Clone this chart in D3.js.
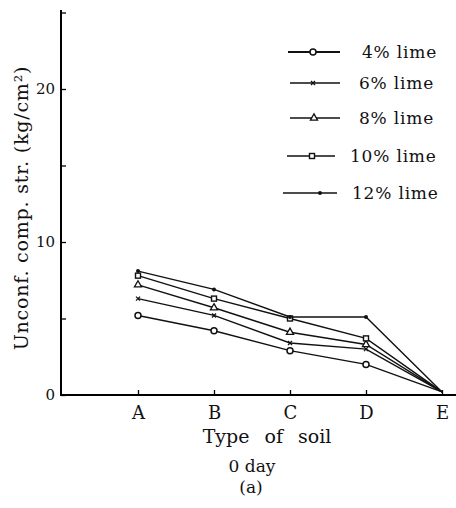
<!DOCTYPE html>
<html>
<head>
<meta charset="utf-8">
<script src="https://cdn.jsdelivr.net/npm/d3@7"></script>
<style>
  body { margin: 0; background: #fff; }
  svg { display: block; font-family: "DejaVu Serif", "Liberation Serif", serif; }
  text { fill: #111; }
</style>
</head>
<body>
<svg width="456" height="508"></svg>
<script>
// Data
var soils = ["A", "B", "C", "D", "E"];
var seriesNames = ["4% lime", "6% lime", "8% lime", "10% lime", "12% lime"];
var lime4  = [5.2, 4.2, 2.9, 2.0, 0.2];
var lime6  = [6.3, 5.2, 3.4, 3.0, 0.2];
var lime8  = [7.2, 5.7, 4.1, 3.3, 0.2];
var lime10 = [7.8, 6.3, 5.0, 3.7, 0.2];
var lime12 = [8.1, 6.9, 5.1, 5.1, 0.2];
var yTicks = [0, 5, 10, 15, 20, 25];
var yLabels = [0, 10, 20];

var series = [lime4, lime6, lime8, lime10, lime12];
var markers = ["circle", "cross", "triangle", "square", "dot"];

var svg = d3.select("svg");

// Scales
var x = d3.scalePoint()
    .domain(soils)
    .range([138, 442]);

var y = d3.scaleLinear()
    .domain([0, 25])
    .range([395, 12.5]);

// Axes
var yAxis = svg.append("g")
    .attr("transform", "translate(61,0)")
    .call(d3.axisLeft(y)
        .tickValues(yTicks)
        .tickSizeInner(-5)
        .tickSizeOuter(0)
        .tickPadding(6)
        .tickFormat(function(d) { return yLabels.indexOf(d) >= 0 ? d : ""; }));
yAxis.select(".domain").attr("stroke-width", 2).attr("d", "M0,10V396");
yAxis.selectAll(".tick line").attr("stroke-width", 1.3);
yAxis.selectAll("text").style("font-size", "15px").style("font-family", "DejaVu Serif");

var xAxis = svg.append("g")
    .attr("transform", "translate(0,395)")
    .call(d3.axisBottom(x)
        .tickSizeInner(-5)
        .tickSizeOuter(0)
        .tickPadding(11));
xAxis.select(".domain").attr("stroke-width", 2).attr("d", "M60,0H456");
xAxis.selectAll(".tick line").attr("stroke-width", 1.3);
xAxis.selectAll("text").style("font-size", "18px").style("font-family", "DejaVu Serif");

// Axis titles
svg.append("text")
    .attr("transform", "translate(28,208) rotate(-90)")
    .attr("text-anchor", "middle")
    .style("font-size", "19px")
    .style("letter-spacing", "0.8px")
    .text("Unconf. comp. str. (kg/cm²)");

svg.append("text")
    .attr("x", 267).attr("y", 443)
    .attr("text-anchor", "middle")
    .style("font-size", "19px")
    .style("word-spacing", "9px")
    .text("Type of soil");

svg.append("text")
    .attr("x", 252).attr("y", 472)
    .attr("text-anchor", "middle")
    .style("font-size", "17px")
    .text("0 day");

svg.append("text")
    .attr("x", 251).attr("y", 493)
    .attr("text-anchor", "middle")
    .style("font-size", "17px")
    .text("(a)");

// Marker drawing
function drawMarker(g, type, cx, cy) {
    if (type === "circle") {
        g.append("circle").attr("cx", cx).attr("cy", cy).attr("r", 3)
            .attr("fill", "#fff").attr("stroke", "#111").attr("stroke-width", 1.5);
    } else if (type === "cross") {
        g.append("path")
            .attr("d", "M" + (cx - 2) + "," + (cy - 2) + "L" + (cx + 2) + "," + (cy + 2) +
                       "M" + (cx + 2) + "," + (cy - 2) + "L" + (cx - 2) + "," + (cy + 2))
            .attr("stroke", "#111").attr("stroke-width", 1.3);
    } else if (type === "triangle") {
        g.append("path")
            .attr("d", d3.symbol().type(d3.symbolTriangle).size(22)())
            .attr("transform", "translate(" + cx + "," + cy + ")")
            .attr("fill", "#fff").attr("stroke", "#111").attr("stroke-width", 1.3);
    } else if (type === "square") {
        g.append("rect").attr("x", cx - 2.5).attr("y", cy - 2.5).attr("width", 5).attr("height", 5)
            .attr("fill", "#fff").attr("stroke", "#111").attr("stroke-width", 1.4);
    } else {
        g.append("circle").attr("cx", cx).attr("cy", cy).attr("r", 2).attr("fill", "#111");
    }
}

// Lines
var line = d3.line()
    .x(function(d, i) { return x(soils[i]); })
    .y(function(d) { return y(d); });

var plot = svg.append("g");
series.forEach(function(s, k) {
    plot.append("path")
        .datum(s)
        .attr("d", line)
        .attr("fill", "none")
        .attr("stroke", "#111")
        .attr("stroke-width", 1.4);
});
series.forEach(function(s, k) {
    s.forEach(function(v, i) {
        if (i < soils.length - 1) drawMarker(plot, markers[k], x(soils[i]), y(v));
    });
});

// Legend
var legendRows = [
    { y: 52, x1: 288, x2: 340, mx: 313, tx: 362, w: 2.2 },
    { y: 83, x1: 290, x2: 340, mx: 313, tx: 359, w: 1.3 },
    { y: 118, x1: 290, x2: 340, mx: 314, tx: 359, w: 1.3 },
    { y: 156, x1: 287, x2: 335, mx: 312, tx: 350, w: 1.3 },
    { y: 193, x1: 283, x2: 337, mx: 320, tx: 352, w: 1.3 }
];

var legend = svg.append("g").attr("id", "legend");
legendRows.forEach(function(r, i) {
    legend.append("line")
        .attr("x1", r.x1).attr("x2", r.x2)
        .attr("y1", r.y).attr("y2", r.y)
        .attr("stroke", "#111").attr("stroke-width", r.w);
    drawMarker(legend, markers[i], r.mx, r.y);
    legend.append("text")
        .attr("x", r.tx).attr("y", r.y + 6)
        .style("font-size", "17px")
        .style("letter-spacing", "0.8px")
        .text(seriesNames[i]);
});
</script>
</body>
</html>
